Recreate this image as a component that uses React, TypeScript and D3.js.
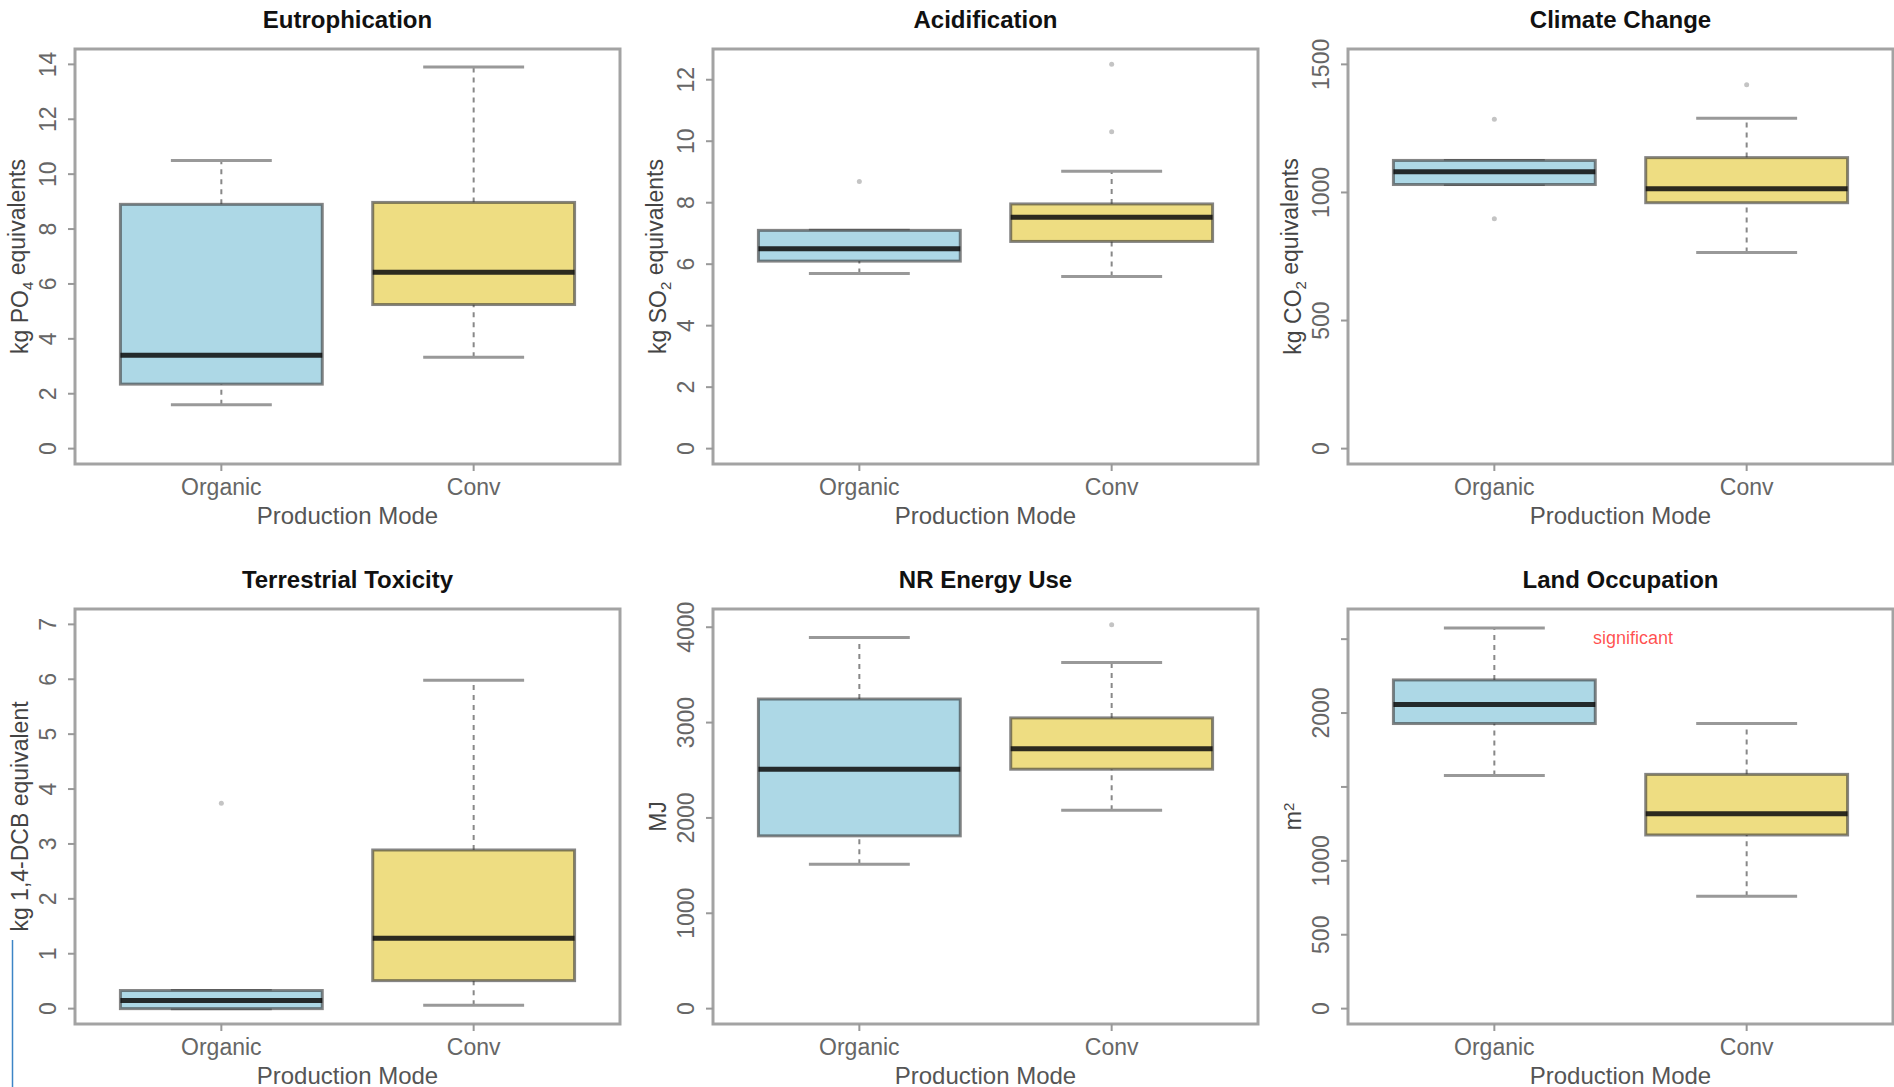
import React from 'react';
import * as d3 from 'd3';

// panel titles, y axis labels and ranges
const panelTitles = ['Eutrophication', 'Acidification', 'Climate Change', 'Terrestrial Toxicity', 'NR Energy Use', 'Land Occupation'];
const yLabels = [
  ['kg PO', '4', ' equivalents'],
  ['kg SO', '2', ' equivalents'],
  ['kg CO', '2', ' equivalents'],
  ['kg 1,4-DCB equivalent', '', ''],
  ['MJ', '', ''],
  ['m', '2', ''],
];
const yMax = [14, 12.5, 1500, 7, 4030, 2600];
const yTicks = [
  [0, 2, 4, 6, 8, 10, 12, 14],
  [0, 2, 4, 6, 8, 10, 12],
  [0, 500, 1000, 1500],
  [0, 1, 2, 3, 4, 5, 6, 7],
  [0, 1000, 2000, 3000, 4000],
  [0, 500, 1000, 1500, 2000, 2500],
];
const yTickLabels = [
  ['0', '2', '4', '6', '8', '10', '12', '14'],
  ['0', '2', '4', '6', '8', '10', '12'],
  ['0', '500', '1000', '1500'],
  ['0', '1', '2', '3', '4', '5', '6', '7'],
  ['0', '1000', '2000', '3000', '4000'],
  ['0', '500', '1000', '', '2000', ''],
];

const categories = ['Organic', 'Conv'];
const boxFills = ['#add8e6', '#eedd82'];

// [lower whisker, Q1, median, Q3, upper whisker]
const organicStats = [
  [1.6, 2.35, 3.4, 8.9, 10.5],
  [5.7, 6.1, 6.5, 7.1, 7.1],
  [1031, 1031, 1081, 1125, 1125],
  [0.0, 0.0, 0.15, 0.33, 0.33],
  [1514, 1812, 2511, 3247, 3892],
  [1578, 1929, 2058, 2224, 2576],
];
const convStats = [
  [3.33, 5.25, 6.43, 8.97, 13.9],
  [5.6, 6.74, 7.53, 7.96, 9.02],
  [766, 960, 1014, 1136, 1290],
  [0.06, 0.51, 1.28, 2.89, 5.98],
  [2081, 2511, 2726, 3049, 3630],
  [760, 1175, 1318, 1585, 1929],
];
const organicOutliers = [[], [8.69], [1286, 897], [3.74], [], []];
const convOutliers = [[], [10.31, 12.5], [1420], [], [4025], []];

// annotation on land occupation
const noteText = 'significant';
const notePos = [1.55, 2510];

const W = 1894;
const H = 1087;
const colLeft = [75, 713, 1348];
const rowTop = [49, 609];
const pw = 545;
const ph = 415;
const font = '"Liberation Sans", Arial, sans-serif';

const Panel = ({ i }) => {
  const left = colLeft[i % 3];
  const top = rowTop[Math.floor(i / 3)];
  const right = left + pw;
  const bottom = top + ph;

  // R style 4% padding
  const x = d3.scaleLinear().domain([0.42, 2.58]).range([left, right]);
  const m = yMax[i];
  const y = d3.scaleLinear().domain([-0.04 * m, 1.04 * m]).range([bottom, top]);
  const bw = x(1.4) - x(1);
  const sw = x(1.2) - x(1);

  const stats = [organicStats[i], convStats[i]];
  const outs = [organicOutliers[i], convOutliers[i]];
  const lab = yLabels[i];

  return (
    <g>
      <text x={(left + right) / 2} y={top - 21} textAnchor="middle" fontFamily={font} fontWeight="bold" fontSize={24} fill="#111">
        {panelTitles[i]}
      </text>

      {stats.map((s, k) => {
        const cx = x(k + 1);
        return (
          <g key={k}>
            <line x1={cx} x2={cx} y1={y(s[0])} y2={y(s[1])} stroke="#888" strokeWidth={2} strokeDasharray="5,5" />
            <line x1={cx} x2={cx} y1={y(s[3])} y2={y(s[4])} stroke="#888" strokeWidth={2} strokeDasharray="5,5" />
            <line x1={cx - sw} x2={cx + sw} y1={y(s[0])} y2={y(s[0])} stroke="#999" strokeWidth={3} />
            <line x1={cx - sw} x2={cx + sw} y1={y(s[4])} y2={y(s[4])} stroke="#999" strokeWidth={3} />
            <rect x={cx - bw} y={y(s[3])} width={2 * bw} height={Math.max(1, y(s[1]) - y(s[3]))}
              fill={boxFills[k]} stroke="#333" strokeOpacity={0.6} strokeWidth={3} />
            <line x1={cx - bw} x2={cx + bw} y1={y(s[2])} y2={y(s[2])} stroke="#111" strokeOpacity={0.88} strokeWidth={5} />
            {outs[k].map((v, j) => (
              <circle key={j} cx={cx} cy={y(v)} r={2.5} fill="#c4c4c4" />
            ))}
          </g>
        );
      })}

      <rect x={left} y={top} width={pw} height={ph} fill="none" stroke="#a3a3a3" strokeWidth={3} />

      {yTicks[i].map((t, j) => (
        <g key={j}>
          <line x1={left - 7} x2={left} y1={y(t)} y2={y(t)} stroke="#999" strokeWidth={2} />
          <text transform={`translate(${left - 27},${y(t)}) rotate(-90)`} dy="0.35em" textAnchor="middle"
            fontFamily={font} fontSize={23} fill="#666">{yTickLabels[i][j]}</text>
        </g>
      ))}

      {categories.map((c, k) => (
        <g key={c}>
          <line x1={x(k + 1)} x2={x(k + 1)} y1={bottom} y2={bottom + 7} stroke="#999" strokeWidth={2} />
          <text x={x(k + 1)} y={bottom + 31} textAnchor="middle" fontFamily={font} fontSize={23} fill="#666">{c}</text>
        </g>
      ))}

      <text x={(left + right) / 2} y={bottom + 60} textAnchor="middle" fontFamily={font} fontSize={24} fill="#555">
        Production Mode
      </text>

      <text transform={`translate(${left - 55},${(top + bottom) / 2}) rotate(-90)`} dy="0.35em" textAnchor="middle"
        fontFamily={font} fontSize={23} fill="#444">
        {lab[0]}
        {lab[1] && <tspan fontSize={15} dy={i === 5 ? '-0.5em' : '0.35em'}>{lab[1]}</tspan>}
        {lab[2] && <tspan dy={i === 5 ? '0.5em' : '-0.35em'}>{lab[2]}</tspan>}
      </text>

      {i === 5 && (
        <text x={x(notePos[0])} y={y(notePos[1])} dy="0.35em" textAnchor="middle" fontFamily={font} fontSize={18}
          fill="#ff0000" fillOpacity={0.7}>{noteText}</text>
      )}
    </g>
  );
};

export default function App() {
  return (
    <svg width={W} height={H} style={{ position: 'absolute', left: 0, top: 0, background: '#fff' }}>
      <rect width={W} height={H} fill="#fff" />
      {panelTitles.map((_, i) => <Panel key={i} i={i} />)}
      <line x1={12.5} x2={12.5} y1={940} y2={H} stroke="#3d85c6" strokeWidth={1.5} />
    </svg>
  );
}
